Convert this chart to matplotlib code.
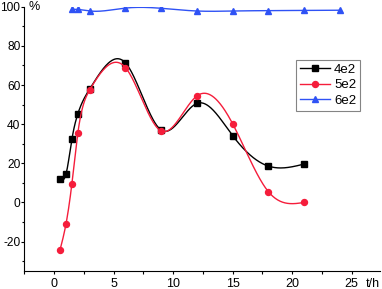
import numpy as np
import matplotlib
matplotlib.use("Agg")
import matplotlib.pyplot as plt
from matplotlib.ticker import MultipleLocator

plt.rcParams['font.family'] = ['Liberation Sans', 'DejaVu Sans']
plt.rcParams['axes.unicode_minus'] = False

t_4e2 = [0.5, 1, 1.5, 2, 3, 6, 9, 12, 15, 18, 21]
v_4e2 = [12, 14.4, 32.3, 45.3, 58, 71.3, 37, 50.6, 34.2, 18.6, 19.6]
t_5e2 = [0.5, 1, 1.5, 2, 3, 6, 9, 12, 15, 18, 21]
v_5e2 = [-24.3, -11.1, 9.6, 35.5, 57.5, 68.9, 36.5, 54.4, 40.3, 5.6, 0]
t_6e2 = [1.5, 2, 3, 6, 9, 12, 15, 18, 21, 24]
v_6e2 = [98.7, 98.6, 97.8, 99.3, 99.2, 97.8, 97.8, 98.0, 98.1, 98.2]
labels = ['4e2', '5e2', '6e2']
xticks = [0, 5, 10, 15, 20, 25]
yticks = [-20, 0, 20, 40, 60, 80, 100]


def natural_spline(x, y, n=400):
    x = np.asarray(x, float); y = np.asarray(y, float)
    k = len(x); h = np.diff(x)
    A = np.zeros((k, k)); b = np.zeros(k)
    A[0, 0] = A[-1, -1] = 1
    for i in range(1, k - 1):
        A[i, i - 1] = h[i - 1]; A[i, i] = 2 * (h[i - 1] + h[i]); A[i, i + 1] = h[i]
        b[i] = 3 * ((y[i + 1] - y[i]) / h[i] - (y[i] - y[i - 1]) / h[i - 1])
    c = np.linalg.solve(A, b)
    xs = np.linspace(x[0], x[-1], n)
    idx = np.clip(np.searchsorted(x, xs) - 1, 0, k - 2)
    dx = xs - x[idx]
    bb = (y[1:] - y[:-1]) / h - h * (2 * c[:-1] + c[1:]) / 3
    d = (c[1:] - c[:-1]) / (3 * h)
    ys = y[idx] + bb[idx] * dx + c[idx] * dx ** 2 + d[idx] * dx ** 3
    return xs, ys


fig = plt.figure(figsize=(3.82, 2.89), dpi=100)
ax = fig.add_axes([0.0636, 0.0623, 0.9314, 0.9145])

series = [(t_4e2, v_4e2, 'black', 's', 4.0),
          (t_5e2, v_5e2, '#f51d3b', 'o', 4.3),
          (t_6e2, v_6e2, '#2f52f5', '^', 5.0)]
for (tx, vy, col, mk, ms), lab in zip(series, labels):
    xs, ys = natural_spline(tx, vy)
    ax.plot(xs, ys, color=col, lw=1.0)
    ax.plot(tx, vy, ls='none', marker=mk, color=col, ms=ms)
    ax.plot([], [], color=col, lw=1.0, marker=mk, ms=ms, label=lab)

ax.set_xlim(-2.5, 27.4)
ax.set_ylim(-35, 100)
ax.set_xticks(xticks)
ax.set_yticks(yticks)
ax.xaxis.set_minor_locator(MultipleLocator(2.5))
ax.yaxis.set_minor_locator(MultipleLocator(10))
for s in ['top', 'right']:
    ax.spines[s].set_visible(False)
ax.tick_params(which='major', direction='out', length=2.5, width=0.8, labelsize=9, pad=2.2)
ax.tick_params(axis='y', which='major', length=2.0, pad=0.8, labelsize=8.6)
ax.tick_params(which='minor', direction='out', length=1.8, width=0.8)
ax.annotate('t/h', xy=(25, 0), xycoords=('data', 'axes fraction'), xytext=(10, -4.7),
            textcoords='offset points', fontsize=9, ha='left', va='top')
ax.annotate('%', xy=(0, 1), xycoords='axes fraction', xytext=(3, 0),
            textcoords='offset points', fontsize=9, ha='left', va='center')

leg = ax.legend(loc='upper left', bbox_to_anchor=(0.763, 0.80), fontsize=9.5,
                frameon=True, fancybox=False, edgecolor='#666666', borderaxespad=0,
                handlelength=2.3, borderpad=0.3, labelspacing=0.25, handletextpad=0.3)
leg.get_frame().set_linewidth(0.8)

fig.savefig('out.png', dpi=100)
